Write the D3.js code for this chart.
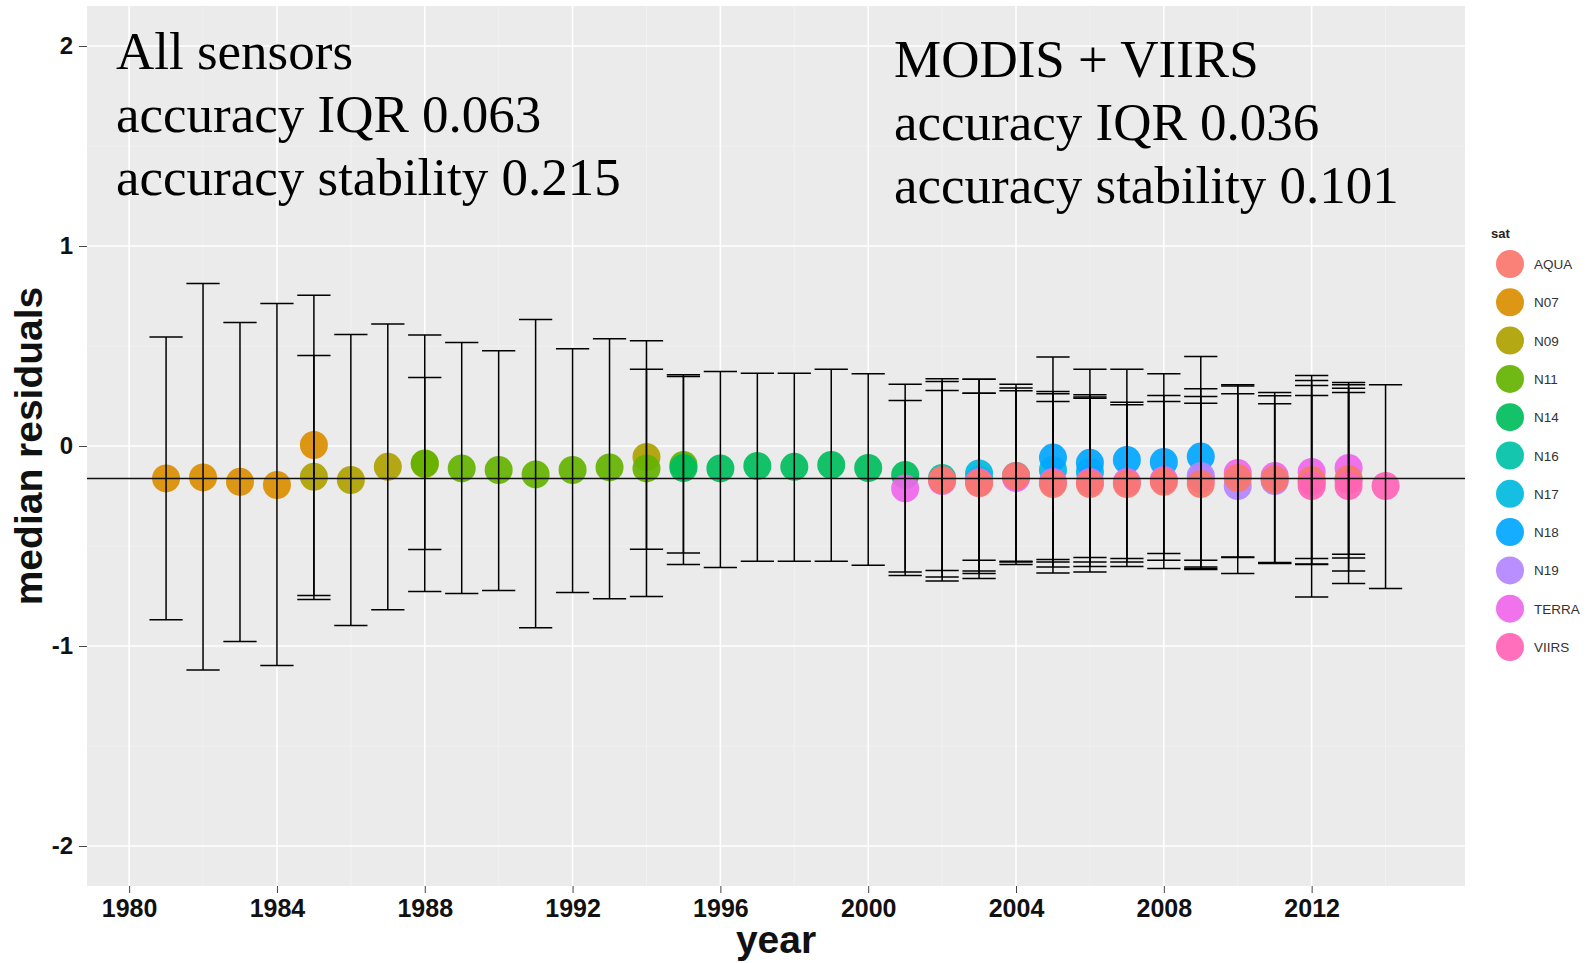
<!DOCTYPE html>
<html>
<head>
<meta charset="utf-8">
<script src="https://cdn.jsdelivr.net/npm/d3@7"></script>
<style>
  html, body { margin: 0; padding: 0; background: #ffffff; }
  svg { display: block; }
</style>
</head>
<body>
<svg id="chart" width="1593" height="963"></svg>
<script>
// ---------- data ----------
const satNames  = ["AQUA","N07","N09","N11","N14","N16","N17","N18","N19","TERRA","VIIRS"];
const satColors = ["#F8766D","#DB8E00","#AEA200","#64B200","#00BD5C","#00C1A7","#00BADE","#00A6FF","#B385FF","#EF67EB","#FF63B6"];
const drawOrder = ["N07","N09","N11","N14","N16","N17","N18","TERRA","N19","AQUA","VIIRS"];

const obsYear = [1981,1982,1983,1984,1985,1985,1986,1987,1988,1988,
                 1989,1990,1991,1992,1993,1994,1994,1995,1995,1996,
                 1997,1998,1999,2000,2001,2001,2002,2002,2002,2003,
                 2003,2003,2003,2004,2004,2004,2005,2005,2005,2005,
                 2006,2006,2006,2006,2007,2007,2007,2008,2008,2008,
                 2009,2009,2009,2009,2010,2010,2010,2011,2011,2011,
                 2012,2012,2012,2012,2013,2013,2013,2013,2014];
const obsSat  = ["N07","N07","N07","N07","N07","N09","N09","N09","N09","N11",
                 "N11","N11","N11","N11","N11","N09","N11","N11","N14","N14",
                 "N14","N14","N14","N14","N14","TERRA","N16","TERRA","AQUA","N16",
                 "N17","TERRA","AQUA","N17","TERRA","AQUA","N17","N18","TERRA","AQUA",
                 "N17","N18","TERRA","AQUA","N18","TERRA","AQUA","N18","TERRA","AQUA",
                 "N18","N19","TERRA","AQUA","N19","TERRA","AQUA","N19","TERRA","AQUA",
                 "N19","TERRA","AQUA","VIIRS","N19","TERRA","AQUA","VIIRS","VIIRS"];
const obsMedian = [-0.162,-0.157,-0.179,-0.195,0.005,-0.154,-0.170,-0.104,-0.090,-0.087,
                   -0.112,-0.120,-0.142,-0.120,-0.107,-0.055,-0.112,-0.095,-0.110,-0.112,
                   -0.100,-0.104,-0.095,-0.110,-0.145,-0.212,-0.160,-0.175,-0.170,-0.170,
                   -0.137,-0.180,-0.187,-0.150,-0.160,-0.150,-0.120,-0.058,-0.180,-0.190,
                   -0.130,-0.084,-0.180,-0.190,-0.070,-0.180,-0.190,-0.080,-0.170,-0.179,
                   -0.053,-0.150,-0.165,-0.190,-0.200,-0.135,-0.160,-0.175,-0.150,-0.167,
                   -0.180,-0.130,-0.170,-0.200,-0.170,-0.110,-0.165,-0.200,-0.200];
const obsLower = [-0.869,-1.120,-0.977,-1.098,-0.768,-0.747,-0.897,-0.819,-0.727,-0.518,
                  -0.738,-0.722,-0.909,-0.733,-0.764,-0.752,-0.516,-0.593,-0.535,-0.608,
                  -0.576,-0.576,-0.576,-0.596,-0.630,-0.647,-0.622,-0.655,-0.675,-0.571,
                  -0.625,-0.638,-0.663,-0.576,-0.593,-0.580,-0.568,-0.580,-0.605,-0.635,
                  -0.558,-0.580,-0.602,-0.630,-0.563,-0.580,-0.602,-0.538,-0.571,-0.613,
                  -0.571,-0.605,-0.613,-0.617,-0.555,-0.638,-0.558,-0.583,-0.588,-0.586,
                  -0.593,-0.563,-0.590,-0.755,-0.625,-0.541,-0.560,-0.688,-0.713];
const obsUpper = [0.545,0.812,0.618,0.712,0.754,0.453,0.558,0.610,0.555,0.342,
                  0.518,0.476,0.632,0.486,0.536,0.526,0.384,0.356,0.347,0.373,
                  0.364,0.364,0.384,0.361,0.309,0.227,0.336,0.322,0.277,0.334,
                  0.334,0.264,0.264,0.309,0.276,0.290,0.272,0.445,0.261,0.222,
                  0.256,0.384,0.239,0.245,0.384,0.219,0.206,0.361,0.252,0.222,
                  0.448,0.286,0.247,0.214,0.306,0.261,0.300,0.267,0.251,0.211,
                  0.302,0.352,0.252,0.327,0.289,0.317,0.267,0.306,0.306];
const overallMedian = -0.162;

const xTicks = [1980,1984,1988,1992,1996,2000,2004,2008,2012];
const yTicks = [-2,-1,0,1,2];
const xMinor = [1982,1986,1990,1994,1998,2002,2006,2010,2014];
const yMinor = [-1.5,-0.5,0.5,1.5];

const leftText  = ["All sensors","accuracy IQR 0.063","accuracy stability 0.215"];
const rightText = ["MODIS + VIIRS","accuracy IQR 0.036","accuracy stability 0.101"];

// ---------- layout ----------
const panel = {left: 87, right: 1465, top: 6, bottom: 886};
const svg = d3.select("#chart");

const x = d3.scaleLinear().domain([1978.86, 2016.15]).range([panel.left, panel.right]);
const y = d3.scaleLinear().domain([-2.2, 2.2]).range([panel.bottom, panel.top]);
const color = d3.scaleOrdinal().domain(satNames).range(satColors);

const rows = obsYear.map((yr, i) => ({year: yr, sat: obsSat[i], med: obsMedian[i], lo: obsLower[i], hi: obsUpper[i]}))
  .sort((a, b) => drawOrder.indexOf(a.sat) - drawOrder.indexOf(b.sat));

// panel background
svg.append("rect")
  .attr("x", panel.left).attr("y", panel.top)
  .attr("width", panel.right - panel.left).attr("height", panel.bottom - panel.top)
  .attr("fill", "#EBEBEB");

// gridlines
const grid = svg.append("g");
grid.selectAll(".ymin").data(yMinor).enter().append("line")
  .attr("x1", panel.left).attr("x2", panel.right)
  .attr("y1", d => y(d)).attr("y2", d => y(d))
  .attr("stroke", "#F3F3F3").attr("stroke-width", 0.7);
grid.selectAll(".xmin").data(xMinor).enter().append("line")
  .attr("y1", panel.top).attr("y2", panel.bottom)
  .attr("x1", d => x(d)).attr("x2", d => x(d))
  .attr("stroke", "#F3F3F3").attr("stroke-width", 0.7);
grid.selectAll(".ymaj").data(yTicks).enter().append("line")
  .attr("x1", panel.left).attr("x2", panel.right)
  .attr("y1", d => y(d)).attr("y2", d => y(d))
  .attr("stroke", "#FFFFFF").attr("stroke-width", 1.6);
grid.selectAll(".xmaj").data(xTicks).enter().append("line")
  .attr("y1", panel.top).attr("y2", panel.bottom)
  .attr("x1", d => x(d)).attr("x2", d => x(d))
  .attr("stroke", "#FFFFFF").attr("stroke-width", 1.6);

// points
svg.append("g").selectAll("circle").data(rows).enter().append("circle")
  .attr("cx", d => x(d.year)).attr("cy", d => y(d.med))
  .attr("r", 14)
  .attr("fill", d => color(d.sat))
  .attr("fill-opacity", 0.92);

// error bars
const capHalf = (x(1) - x(0)) * 0.45;
const eb = svg.append("g").attr("stroke", "#000").attr("stroke-width", 1.5).attr("fill", "none");
rows.forEach(d => {
  const cx = x(d.year);
  eb.append("line").attr("x1", cx).attr("x2", cx).attr("y1", y(d.lo)).attr("y2", y(d.hi));
  eb.append("line").attr("x1", cx - capHalf).attr("x2", cx + capHalf).attr("y1", y(d.hi)).attr("y2", y(d.hi));
  eb.append("line").attr("x1", cx - capHalf).attr("x2", cx + capHalf).attr("y1", y(d.lo)).attr("y2", y(d.lo));
});

// overall median line
svg.append("line")
  .attr("x1", panel.left).attr("x2", panel.right)
  .attr("y1", y(overallMedian)).attr("y2", y(overallMedian))
  .attr("stroke", "#111").attr("stroke-width", 1.5);

// axes
const xAxis = svg.append("g")
  .attr("transform", `translate(0,${panel.bottom})`)
  .call(d3.axisBottom(x).tickValues(xTicks).tickFormat(d3.format("d")).tickSize(7).tickPadding(6));
xAxis.select(".domain").remove();
xAxis.selectAll(".tick line").attr("stroke", "#444");
xAxis.selectAll(".tick text")
  .attr("font-family", "'Liberation Sans', Arial, sans-serif")
  .attr("font-weight", "bold").attr("font-size", 25).attr("fill", "#111");

const yAxis = svg.append("g")
  .attr("transform", `translate(${panel.left},0)`)
  .call(d3.axisLeft(y).tickValues(yTicks).tickFormat(d3.format("d")).tickSize(8).tickPadding(6));
yAxis.select(".domain").remove();
yAxis.selectAll(".tick line").attr("stroke", "#444");
yAxis.selectAll(".tick text")
  .attr("font-family", "'Liberation Sans', Arial, sans-serif")
  .attr("font-weight", "bold").attr("font-size", 24).attr("fill", "#111")
  .text(d => d < 0 ? "-" + Math.abs(d) : d);

// axis titles
svg.append("text")
  .attr("x", (panel.left + panel.right) / 2).attr("y", 953)
  .attr("text-anchor", "middle")
  .attr("font-family", "'Liberation Sans', Arial, sans-serif")
  .attr("font-weight", "bold").attr("font-size", 39).attr("fill", "#111")
  .text("year");
svg.append("text")
  .attr("transform", `translate(42,${(panel.top + panel.bottom) / 2}) rotate(-90)`)
  .attr("text-anchor", "middle")
  .attr("font-family", "'Liberation Sans', Arial, sans-serif")
  .attr("font-weight", "bold").attr("font-size", 39).attr("fill", "#111")
  .text("median residuals");

// annotations
const annL = svg.append("text")
  .attr("font-family", "'Liberation Serif', 'Times New Roman', serif")
  .attr("font-size", 53).attr("fill", "#000");
leftText.forEach((t, i) => annL.append("tspan").attr("x", 116).attr("y", 69 + i * 63).text(t));
const annR = svg.append("text")
  .attr("font-family", "'Liberation Serif', 'Times New Roman', serif")
  .attr("font-size", 53).attr("fill", "#000");
rightText.forEach((t, i) => annR.append("tspan").attr("x", 894).attr("y", 77 + i * 63).text(t));

// legend
const lg = svg.append("g");
lg.append("text").attr("x", 1491).attr("y", 238)
  .attr("font-family", "'Liberation Sans', Arial, sans-serif")
  .attr("font-weight", "bold").attr("font-size", 13).attr("fill", "#222")
  .text("sat");
const items = lg.selectAll(".item").data(satNames).enter().append("g")
  .attr("transform", (d, i) => `translate(1510,${264 + i * 38.3})`);
items.append("circle").attr("r", 14).attr("fill", d => color(d)).attr("fill-opacity", 0.92);
items.append("text").attr("x", 24).attr("y", 5)
  .attr("font-family", "'Liberation Sans', Arial, sans-serif")
  .attr("font-size", 13.5).attr("fill", "#333")
  .text(d => d);
</script>
</body>
</html>
